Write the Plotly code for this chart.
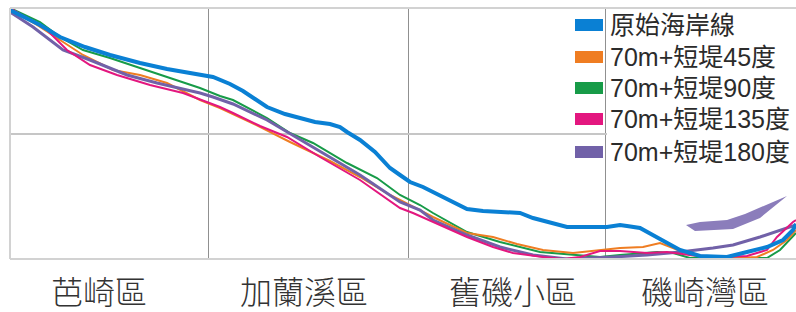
import plotly.graph_objects as go

# Distance along coast (arbitrary units) and shoreline position
regions = ["芭崎區", "加蘭溪區", "舊磯小區", "磯崎灣區"]
region_centers = [89, 294, 503, 695]
section_bounds = [198, 398, 595]

names = ["原始海岸線", "70m+短堤45度", "70m+短堤90度", "70m+短堤135度", "70m+短堤180度"]
colors = ["#0a80d4", "#ef7d22", "#179b48", "#e3177f", "#7161a8"]

blue_x = [0,30,50,75,100,130,157,183,198,203,220,233,245,257,275,290,305,320,330,337,350,365,380,390,400,413,433,447,457,473,510,523,557,597,610,617,630,650,670,690,717,737,757,773,783,786]
blue_y = [249,234,222,212,204,196,190,185,183,182,175,168,160,152,145,141,137,135,132,127,119,107,91,84,77,72,62,54,50,48,46,41,32,32,34,33,31,20,9,3,2,7,12,19,29,35]

orange_x = [0,27,47,73,103,130,157,190,210,240,280,320,350,380,390,410,423,457,483,507,533,563,590,610,633,650,663,680,703,727,747,763,777,786]
orange_y = [250,234,221,204,189,184,176,159,151,137,117,98,82,64,59,49,42,26,22,15,9,6,9,11,12,16,11,4,1,1,2,9,19,29]

green_x = [0,30,50,73,100,130,157,183,190,210,223,257,280,303,337,367,383,390,410,423,457,490,530,557,590,610,630,647,663,680,720,757,770,783,786]
green_y = [251,237,222,209,201,191,182,174,171,163,159,141,126,116,96,81,69,64,54,46,27,17,7,5,2,4,6,7,6,1,1,1,9,22,26]

pink_x = [0,37,57,80,107,140,173,197,210,223,237,250,277,310,350,390,403,423,457,483,503,533,553,570,590,610,637,657,680,710,737,757,767,783,786]
pink_y = [251,229,209,194,184,174,166,157,152,146,139,133,122,102,79,51,46,37,22,12,6,2,0,2,8,8,6,7,4,2,3,9,22,37,39]

purple_x = [0,23,53,80,117,147,177,190,203,223,257,287,320,350,390,410,423,457,490,523,557,590,603,637,670,703,723,750,777,786]
purple_y = [247,232,209,199,184,176,169,166,162,155,139,121,102,84,57,49,39,24,12,4,0,1,2,4,7,11,14,22,31,34]

band_x = [676,690,717,735,777,750,723,685,676]
band_y = [34,37,39,45,63,41,30,28,34]

fig = go.Figure()
fig.add_trace(go.Scatter(x=band_x, y=band_y, fill="toself", fillcolor="#8b7dbb",
                         line=dict(width=0), mode="lines", showlegend=False, hoverinfo="skip"))
series = [
    (green_x, green_y, 2, 2),
    (orange_x, orange_y, 1, 2),
    (purple_x, purple_y, 4, 3),
    (pink_x, pink_y, 3, 2),
    (blue_x, blue_y, 0, 4),
]
for xs, ys, idx, w in series:
    fig.add_trace(go.Scatter(x=xs, y=ys, mode="lines", name=names[idx],
                             line=dict(color=colors[idx], width=w), showlegend=False))

shapes = []
# white legend backdrop over the grid
shapes.append(dict(type="rect", xref="x", yref="y", x0=597, x1=790, y0=92, y1=246,
                   fillcolor="white", line=dict(width=0), layer="between"))
# border lines
for s in [dict(x0=0, x1=0, y0=0, y1=1), dict(x0=0, x1=1, y0=1, y1=1), dict(x0=0, x1=1, y0=0, y1=0)]:
    shapes.append(dict(type="line", xref="paper", yref="paper", line=dict(color="#d2d2d2", width=2), **s))

legend_rows = [234, 202, 171, 140, 107]
annotations = []
for i, yrow in enumerate(legend_rows):
    shapes.append(dict(type="rect", xref="x", yref="y", x0=565, x1=593, y0=yrow - 6, y1=yrow + 6,
                       fillcolor=colors[i], line=dict(width=0)))
    annotations.append(dict(x=598, y=yrow, xref="x", yref="y", text=names[i], showarrow=False,
                            xanchor="left", yanchor="middle",
                            font=dict(size=25, color="#2b2b2b",
                                      family="Liberation Sans, Arial, Noto Sans CJK TC")))

for name, cx in zip(regions, region_centers):
    annotations.append(dict(x=cx, y=0, xref="x", yref="paper", yshift=-34, text=name,
                            showarrow=False, xanchor="center", yanchor="middle", borderpad=0,
                            font=dict(size=32, color="#333333",
                                      family="Liberation Sans, Noto Sans CJK TC", weight=300)))

fig.update_layout(
    width=796, height=312,
    margin=dict(l=10, r=0, t=8, b=53),
    paper_bgcolor="white", plot_bgcolor="white",
    xaxis=dict(range=[0, 786], tickvals=section_bounds, showticklabels=False,
               showgrid=True, gridcolor="#909090", gridwidth=1, zeroline=False, showline=False),
    yaxis=dict(range=[0, 251], tickvals=[125.5], showticklabels=False,
               showgrid=True, gridcolor="#c6c6c6", gridwidth=2, zeroline=False, showline=False),
    shapes=shapes, annotations=annotations,
)
fig.write_html("out.html", config={"displayModeBar": False},
               post_script="document.body.style.margin='0';document.body.style.overflow='hidden';")
